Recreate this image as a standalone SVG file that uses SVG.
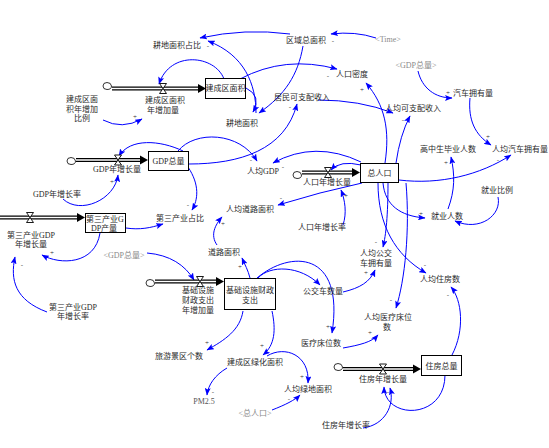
<svg xmlns="http://www.w3.org/2000/svg" width="549" height="448" viewBox="0 0 549 448">
  <defs>
    <marker id="ah" markerUnits="userSpaceOnUse" markerWidth="8" markerHeight="6" refX="7" refY="3" orient="auto">
      <path d="M0,0 L7.5,3 L0,6 L1.5,3 Z" fill="#0000ff"/>
    </marker>
    <style>
      text { font-family: "Liberation Serif", "Noto Sans CJK SC", serif; font-size: 8px; fill: #2a2a2a; text-anchor: middle; dominant-baseline: central; }
      .shadow { fill: #8a8a8a; }
      .pol { font-size: 7px; fill: #333; }
      .stock { fill: #fff; stroke: #000; stroke-width: 1; }
      .link { fill: none; stroke: #0000ff; stroke-width: 1; marker-end: url(#ah); }
      .pipe-o { fill: none; stroke: #000; stroke-width: 4; }
      .pipe-i { fill: none; stroke: #fff; stroke-width: 1.6; }
      .valve { fill: #fff; stroke: #000; stroke-width: 0.9; }
      .cloud { fill: #fff; stroke: #000; stroke-width: 0.8; }
      .tip { fill: #000; }
    </style>
  </defs>
  <rect width="549" height="448" fill="#fff"/>

  <!-- information links -->
  <g id="connectors">
    <path class="link" d="M376,38 Q355,31 331,34"/>
    <path class="link" d="M290,34 Q245,28 200,38"/>
    <path class="link" d="M256,113 C256,85 245,55 208,41"/>
    <path class="link" d="M224,79 C215,55 170,50 159,84"/>
    <path class="link" d="M103,120 Q122,130 142,119"/>
    <path class="link" d="M240,79 Q285,55 337,69"/>
    <path class="link" d="M303,46 C298,75 285,95 259,113"/>
    <path class="link" d="M246,88 Q262,96 253,112"/>
    <path class="link" d="M318,100 Q360,100 393,113"/>
    <path class="link" d="M385,163 C390,130 385,105 366,83"/>
    <path class="link" d="M396,163 Q400,135 410,116"/>
    <path class="link" d="M418,71 C422,88 435,98 452,98"/>
    <path class="link" d="M470,98 C468,120 475,135 491,145"/>
    <path class="link" d="M399,180 C440,185 480,175 511,155"/>
    <path class="link" d="M448,209 C455,190 455,175 451,157"/>
    <path class="link" d="M498,197 C502,215 480,232 455,221"/>
    <path class="link" d="M383,183 C385,205 400,216 425,218"/>
    <path class="link" d="M183,151 C160,140 130,138 119,156"/>
    <path class="link" d="M178,151 C195,130 240,132 257,161"/>
    <path class="link" d="M189,164 C240,164 285,150 297,104"/>
    <path class="link" d="M361,162 Q315,140 273,163"/>
    <path class="link" d="M361,165 Q340,160 331,170"/>
    <path class="link" d="M343,225 C347,213 345,200 341,190"/>
    <path class="link" d="M362,183 Q320,192 278,205"/>
    <path class="link" d="M217,245 C210,235 215,225 222,217"/>
    <path class="link" d="M250,278 C248,270 245,265 242,258"/>
    <path class="link" d="M258,278 C270,265 300,265 320,285"/>
    <path class="link" d="M257,278 C290,250 345,250 332,333"/>
    <path class="link" d="M243,311 C240,330 225,340 207,350"/>
    <path class="link" d="M272,311 C276,330 275,345 263,355"/>
    <path class="link" d="M227,368 C215,375 208,385 207,395"/>
    <path class="link" d="M267,356 C285,345 310,355 308,383"/>
    <path class="link" d="M272,410 C285,405 295,400 300,395"/>
    <path class="link" d="M343,348 C360,345 372,342 378,335"/>
    <path class="link" d="M406,183 C410,230 405,280 396,308"/>
    <path class="link" d="M388,183 C388,215 386,235 383,247"/>
    <path class="link" d="M343,292 C360,288 370,282 375,270"/>
    <path class="link" d="M378,183 C378,225 395,255 426,273"/>
    <path class="link" d="M452,355 C465,330 462,300 451,287"/>
    <path class="link" d="M445,375 C445,420 385,420 384,387"/>
    <path class="link" d="M363,428 C385,425 395,405 390,388"/>
    <path class="link" d="M63,199 C80,215 115,200 118,175"/>
    <path class="link" d="M188,167 C200,185 198,200 192,210"/>
    <path class="link" d="M126,228 C140,230 150,228 163,224"/>
    <path class="link" d="M100,233 C95,265 60,265 42,255"/>
    <path class="link" d="M47,312 C15,300 10,280 15,257"/>
    <path class="link" d="M147,253 C170,255 185,265 194,280"/>
  </g>

  <!-- polarity marks -->
  <g id="polarity">
    <text class="pol" x="208" y="46">-</text>
    <text class="pol" x="333" y="41">-</text>
    <text class="pol" x="328" y="76">-</text>
    <text class="pol" x="362" y="90">+</text>
    <text class="pol" x="290" y="107">-</text>
    <text class="pol" x="448" y="93">+</text>
    <text class="pol" x="135" y="117">+</text>
    <text class="pol" x="403" y="120">-</text>
    <text class="pol" x="251" y="160">-</text>
    <text class="pol" x="283" y="167">-</text>
    <text class="pol" x="112" y="182">+</text>
    <text class="pol" x="446" y="163">+</text>
    <text class="pol" x="488" y="137">+</text>
    <text class="pol" x="498" y="160">-</text>
    <text class="pol" x="188" y="205">-</text>
    <text class="pol" x="281" y="198">-</text>
    <text class="pol" x="223" y="224">+</text>
    <text class="pol" x="421" y="214">+</text>
    <text class="pol" x="52" y="253">+</text>
    <text class="pol" x="22" y="265">-</text>
    <text class="pol" x="240" y="267">+</text>
    <text class="pol" x="376" y="242">-</text>
    <text class="pol" x="366" y="273">+</text>
    <text class="pol" x="425" y="265">-</text>
    <text class="pol" x="448" y="295">-</text>
    <text class="pol" x="391" y="300">-</text>
    <text class="pol" x="370" y="333">+</text>
    <text class="pol" x="328" y="327">+</text>
    <text class="pol" x="207" y="343">+</text>
    <text class="pol" x="262" y="346">+</text>
    <text class="pol" x="213" y="392">-</text>
    <text class="pol" x="302" y="377">+</text>
    <text class="pol" x="289" y="399">-</text>
    <text class="pol" x="388" y="392">-</text>
    <text class="pol" x="346" y="196">+</text>
  </g>

  <!-- stock: 建成区面积 with inflow -->
  <g id="flow-built-area">
    <path class="pipe-o" d="M112,88.5 H200"/>
    <path class="pipe-i" d="M112,88.5 H201"/>
    <path class="tip" d="M198,84 L206,88.5 L198,93 Z"/>
    <path class="cloud" d="M103,86 q0,-3.5 4,-3.5 q4,0 4.5,3.5 q0,3.5 -4.5,3.5 q-4,0 -4,-3.5 Z"/>
    <path class="valve" d="M159.5,83.5 H166.5 L159.5,93.5 H166.5 Z"/>
    <text x="165" y="100">建成区面积</text>
    <text x="163" y="110">年增加量</text>
  </g>
  <g id="built-area">
    <rect class="stock" x="205.5" y="78.5" width="40" height="20"/>
    <text x="225.5" y="88.5">建成区面积</text>
  </g>

  <!-- stock: GDP总量 with inflow -->
  <g id="flow-gdp">
    <path class="pipe-o" d="M76,160 H142"/>
    <path class="pipe-i" d="M76,160 H143"/>
    <path class="tip" d="M140,155.5 L148,160 L140,164.5 Z"/>
    <path class="cloud" d="M67,161 q0,-3.5 4,-3.5 q4,0 4.5,3.5 q0,3.5 -4.5,3.5 q-4,0 -4,-3.5 Z"/>
    <path class="valve" d="M114.5,155 H121.5 L114.5,165 H121.5 Z"/>
    <text x="117" y="169">GDP年增长量</text>
  </g>
  <g id="gdp-total">
    <rect class="stock" x="148.5" y="151.5" width="40" height="19"/>
    <text x="168.5" y="161">GDP总量</text>
  </g>

  <!-- stock: 第三产业GDP产量 with inflow -->
  <g id="flow-tertiary">
    <path class="pipe-o" d="M0,217.5 H79"/>
    <path class="pipe-i" d="M0,217.5 H80"/>
    <path class="tip" d="M77,213 L85,217.5 L77,222 Z"/>
    <path class="valve" d="M26.5,212.5 H33.5 L26.5,222.5 H33.5 Z"/>
    <text x="31" y="235">第三产业GDP</text>
    <text x="31" y="244">年增长量</text>
  </g>
  <g id="tertiary-gdp">
    <rect class="stock" x="85.5" y="213.5" width="40" height="19"/>
    <text x="105" y="219.5">第三产业G</text>
    <text x="104" y="228">DP产量</text>
  </g>

  <!-- stock: 总人口 with inflow -->
  <g id="flow-population">
    <path class="pipe-o" d="M302,172.5 H354"/>
    <path class="pipe-i" d="M302,172.5 H355"/>
    <path class="tip" d="M352,168 L360,172.5 L352,177 Z"/>
    <path class="cloud" d="M293,175 q0,-3.5 4,-3.5 q4,0 4.5,3.5 q0,3.5 -4.5,3.5 q-4,0 -4,-3.5 Z"/>
    <path class="valve" d="M324.5,167.5 H331.5 L324.5,177.5 H331.5 Z"/>
    <text x="327" y="182">人口年增长量</text>
  </g>
  <g id="population">
    <rect class="stock" x="360.5" y="163.5" width="38" height="19"/>
    <text x="379.5" y="173">总人口</text>
  </g>

  <!-- stock: 基础设施财政支出 with inflow -->
  <g id="flow-infrastructure">
    <path class="pipe-o" d="M155,281.5 H218"/>
    <path class="pipe-i" d="M155,281.5 H219"/>
    <path class="tip" d="M216,277 L224,281.5 L216,286 Z"/>
    <path class="cloud" d="M146,283 q0,-3.5 4,-3.5 q4,0 4.5,3.5 q0,3.5 -4.5,3.5 q-4,0 -4,-3.5 Z"/>
    <path class="valve" d="M196.5,276.5 H203.5 L196.5,286.5 H203.5 Z"/>
    <text x="198" y="290">基础设施</text>
    <text x="198" y="300">财政支出</text>
    <text x="198" y="310">年增加量</text>
  </g>
  <g id="infrastructure">
    <rect class="stock" x="224.5" y="278.5" width="51" height="31"/>
    <text x="250" y="290">基础设施财政</text>
    <text x="250" y="300">支出</text>
  </g>

  <!-- stock: 住房总量 with inflow -->
  <g id="flow-housing">
    <path class="pipe-o" d="M343,369 H415"/>
    <path class="pipe-i" d="M343,369 H416"/>
    <path class="tip" d="M413,364.5 L421,369 L413,373.5 Z"/>
    <path class="cloud" d="M334,367 q0,-3.5 4,-3.5 q4,0 4.5,3.5 q0,3.5 -4.5,3.5 q-4,0 -4,-3.5 Z"/>
    <path class="valve" d="M379.5,364 H386.5 L379.5,374 H386.5 Z"/>
    <text x="383" y="379">住房年增长量</text>
  </g>
  <g id="housing">
    <rect class="stock" x="421.5" y="355.5" width="40" height="20"/>
    <text x="441.5" y="366">住房总量</text>
  </g>

  <!-- auxiliary variables -->
  <g id="farmland-share"><text x="177" y="45">耕地面积占比</text></g>
  <g id="region-area"><text x="306" y="40">区域总面积</text></g>
  <g id="time"><text class="shadow" x="388" y="39">&lt;Time&gt;</text></g>
  <g id="pop-density"><text x="352" y="74">人口密度</text></g>
  <g id="gdp-shadow-1"><text class="shadow" x="416" y="65">&lt;GDP总量&gt;</text></g>
  <g id="cars"><text x="473" y="93">汽车拥有量</text></g>
  <g id="built-area-rate">
    <text x="82" y="99">建成区面</text>
    <text x="82" y="109">积年增加</text>
    <text x="82" y="118">比例</text>
  </g>
  <g id="resident-income"><text x="302" y="97">居民可支配收入</text></g>
  <g id="income-per-capita"><text x="413" y="108">人均可支配收入</text></g>
  <g id="farmland"><text x="242" y="123">耕地面积</text></g>
  <g id="graduates"><text x="448" y="149">高中生毕业人数</text></g>
  <g id="cars-per-capita"><text x="520" y="149">人均汽车拥有量</text></g>
  <g id="gdp-per-capita"><text x="263" y="171">人均GDP</text></g>
  <g id="employment-ratio"><text x="497" y="190">就业比例</text></g>
  <g id="gdp-growth-rate"><text x="57" y="194">GDP年增长率</text></g>
  <g id="road-per-capita"><text x="250" y="209">人均道路面积</text></g>
  <g id="tertiary-share"><text x="180" y="218">第三产业占比</text></g>
  <g id="employed"><text x="447" y="216">就业人数</text></g>
  <g id="pop-growth-rate"><text x="322" y="227">人口年增长率</text></g>
  <g id="road-area"><text x="224" y="252">道路面积</text></g>
  <g id="gdp-shadow-2"><text class="shadow" x="124" y="255">&lt;GDP总量&gt;</text></g>
  <g id="bus-per-capita">
    <text x="376" y="253">人均公交</text>
    <text x="376" y="263">车拥有量</text>
  </g>
  <g id="housing-per-capita"><text x="440" y="279">人均住房数</text></g>
  <g id="buses"><text x="323" y="291">公交车数量</text></g>
  <g id="tertiary-growth-rate">
    <text x="73" y="307">第三产业GDP</text>
    <text x="73" y="316">年增长率</text>
  </g>
  <g id="beds-per-capita">
    <text x="388" y="317">人均医疗床位</text>
    <text x="387" y="327">数</text>
  </g>
  <g id="beds"><text x="321" y="343">医疗床位数</text></g>
  <g id="scenic-spots"><text x="179" y="356">旅游景区个数</text></g>
  <g id="green-area"><text x="255" y="362">建成区绿化面积</text></g>
  <g id="green-per-capita"><text x="308" y="389">人均绿地面积</text></g>
  <g id="pm25"><text x="204" y="401" style="fill:#555">PM2.5</text></g>
  <g id="population-shadow"><text class="shadow" x="255" y="413">&lt;总人口&gt;</text></g>
  <g id="housing-growth-rate"><text x="346" y="425">住房年增长率</text></g>
</svg>
